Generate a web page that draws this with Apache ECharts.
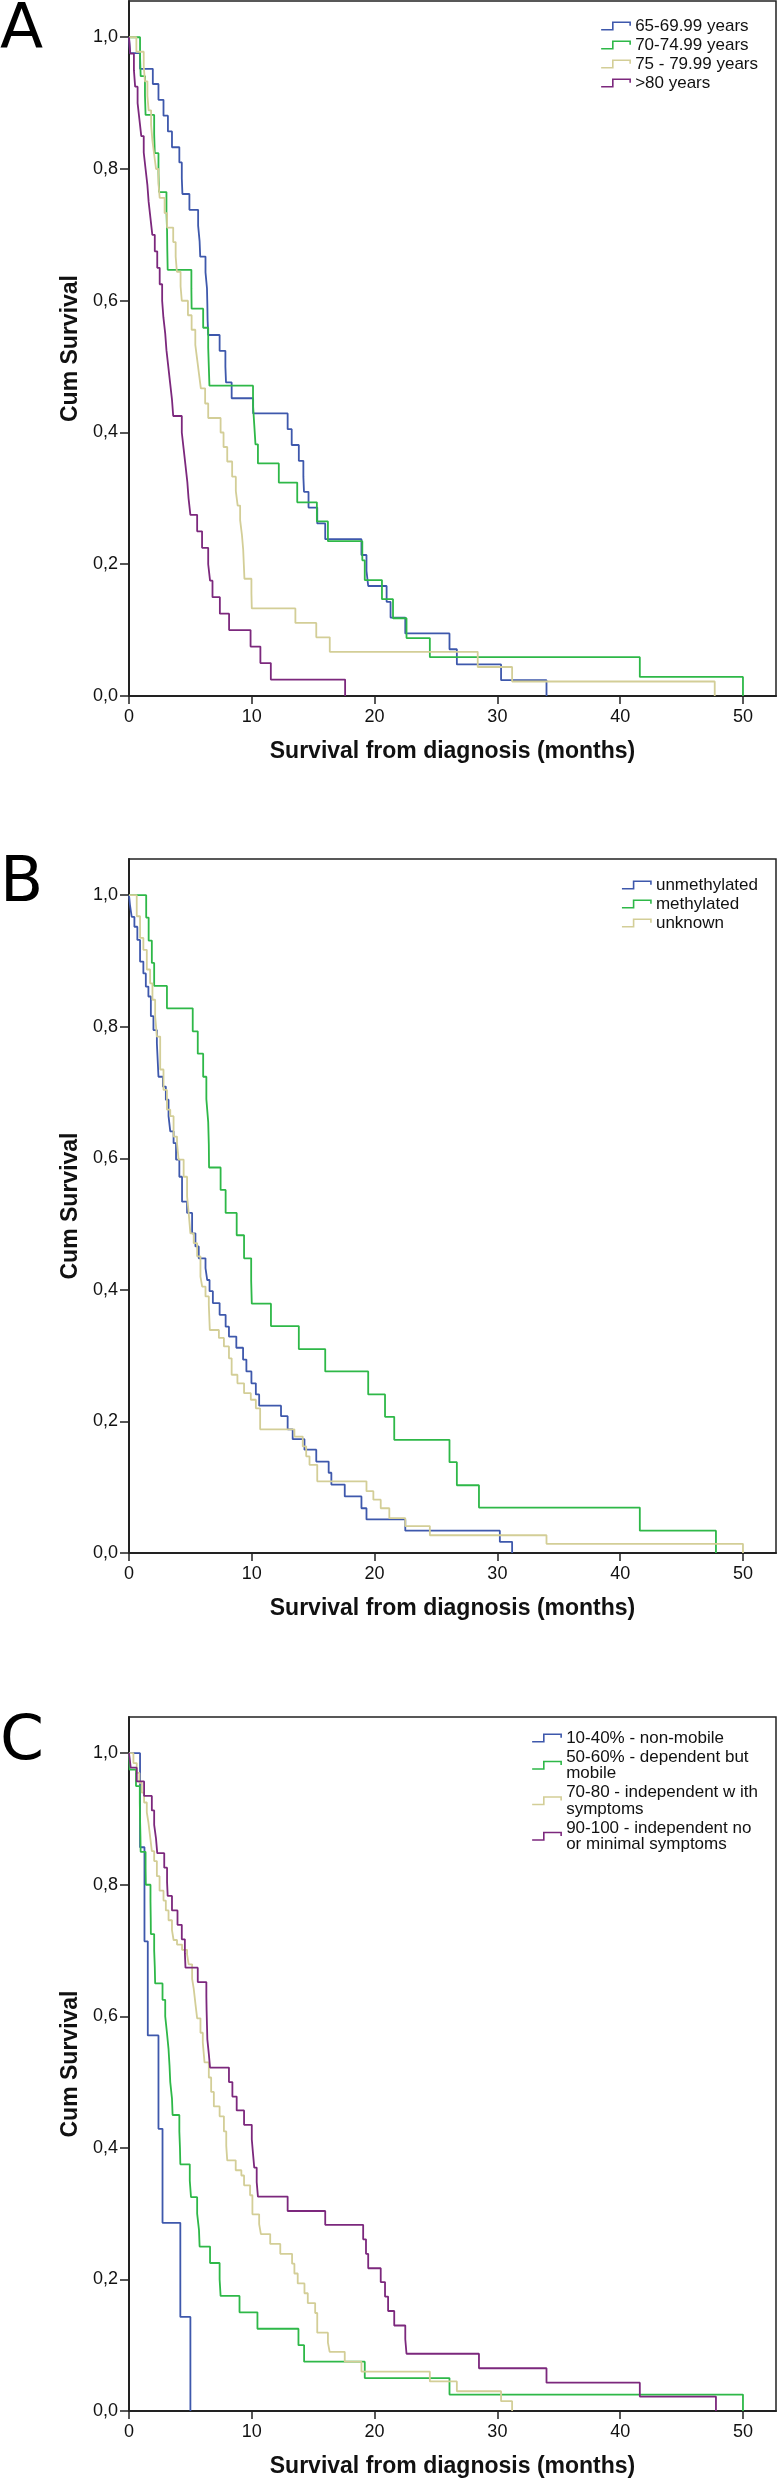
<!DOCTYPE html>
<html><head><meta charset="utf-8">
<script src="https://cdn.jsdelivr.net/npm/echarts@6/dist/echarts.min.js"></script>
<style>html,body{margin:0;padding:0;background:#fff}#c{width:778px;height:2481px}</style>
</head><body><div id="c"></div>
<script>
// ---------- data ----------
const xTicks = [0, 10, 20, 30, 40, 50];
const yTicks = [0, 0.2, 0.4, 0.6, 0.8, 1.0];
const yTickLabels = ['0,0', '0,2', '0,4', '0,6', '0,8', '1,0'];
const xTitle = 'Survival from diagnosis (months)';
const yTitle = 'Cum Survival';
const panelLetters = ['A', 'B', 'C'];

// Panel A: age groups
const groupsA = ['65-69.99 years', '70-74.99 years', '75 - 79.99 years', '>80 years'];
const A1_t = [0.08,0.9,1.94,2.4,2.81,3.17,3.5,4.1,4.3,4.35,4.92,5.63,5.75,5.8,6.23,6.35,6.38,6.4,6.45,7.38,7.85,7.9,8.36,10.11,12.92,13.25,13.83,14.2,14.25,14.62,15.33,15.98,18.93,19.34,19.48,20.98,21.3,22.5,26.1,26.7,30.3,34.0];
const A1_s = [0.976,0.952,0.929,0.905,0.881,0.857,0.833,0.810,0.786,0.762,0.738,0.714,0.690,0.667,0.643,0.619,0.595,0.571,0.548,0.524,0.500,0.476,0.452,0.429,0.405,0.381,0.357,0.333,0.310,0.286,0.262,0.238,0.214,0.190,0.167,0.143,0.119,0.095,0.071,0.048,0.024,0];
const A2_t = [0.9,0.95,1.3,1.35,2.05,2.1,2.4,2.45,3.05,3.1,3.12,3.15,5.08,5.1,6.04,6.45,6.5,6.55,10.1,10.2,10.3,10.5,12.2,13.7,15.3,16.2,19.0,19.2,20.6,21.5,22.6,24.5,41.6,50.0];
const A2_s = [0.971,0.941,0.912,0.882,0.853,0.824,0.794,0.765,0.735,0.706,0.676,0.647,0.618,0.588,0.559,0.529,0.500,0.471,0.441,0.412,0.382,0.353,0.324,0.294,0.265,0.235,0.206,0.176,0.147,0.118,0.088,0.059,0.029,0];
const A3_t = [0.6,1.2,1.3,1.5,1.6,1.8,1.9,2.05,2.2,2.4,2.5,2.9,3.1,3.6,3.8,3.9,4.2,4.3,4.8,5.1,5.4,5.55,5.7,5.85,6.2,6.45,7.46,7.7,8.0,8.4,8.7,8.85,9.05,9.2,9.3,9.35,9.4,9.97,10.0,13.55,15.25,16.35,28.4,31.2,47.7];
const A3_s = [0.978,0.956,0.933,0.911,0.889,0.867,0.844,0.822,0.800,0.778,0.756,0.733,0.711,0.689,0.667,0.644,0.622,0.600,0.578,0.556,0.533,0.511,0.489,0.467,0.444,0.422,0.400,0.378,0.356,0.333,0.311,0.289,0.267,0.244,0.222,0.200,0.178,0.156,0.133,0.111,0.089,0.067,0.044,0.022,0];
const A4_t = [0.1,0.4,0.5,0.7,0.85,1.0,1.2,1.35,1.5,1.6,1.75,1.9,2.1,2.3,2.5,2.7,2.8,2.95,3.05,3.2,3.35,3.5,3.6,4.3,4.45,4.6,4.75,4.85,5.0,5.55,5.95,6.45,6.6,6.8,7.4,8.15,9.9,10.7,11.55,17.6];
const A4_s = [0.975,0.95,0.925,0.9,0.875,0.85,0.825,0.8,0.775,0.75,0.725,0.7,0.675,0.65,0.625,0.6,0.575,0.55,0.525,0.5,0.475,0.45,0.425,0.4,0.375,0.35,0.325,0.3,0.275,0.25,0.225,0.2,0.175,0.15,0.125,0.1,0.075,0.05,0.025,0];

// Panel B: MGMT methylation
const groupsB = ['unmethylated', 'methylated', 'unknown'];
const B1_t = [0.08,0.22,0.44,0.68,0.9,1.17,1.37,1.58,1.78,1.99,2.27,2.4,2.76,3.0,3.22,3.36,3.63,3.83,4.1,4.32,4.73,5.14,5.41,5.68,6.23,6.37,6.56,6.83,7.38,7.87,8.14,8.74,9.29,9.56,9.97,10.33,10.6,12.38,12.92,13.33,14.29,15.25,16.26,16.48,17.57,18.93,19.34,22.5,30.2,31.2];
const B1_s = [0.985,0.967,0.952,0.932,0.899,0.881,0.861,0.846,0.816,0.795,0.775,0.724,0.709,0.689,0.664,0.641,0.623,0.598,0.572,0.534,0.517,0.486,0.466,0.448,0.433,0.415,0.398,0.380,0.362,0.344,0.329,0.312,0.294,0.276,0.258,0.241,0.224,0.208,0.188,0.173,0.157,0.139,0.122,0.104,0.086,0.068,0.051,0.034,0.017,0];
const B2_t = [1.4,1.6,1.86,2.05,3.09,5.19,5.6,6.04,6.3,6.45,6.5,6.52,7.46,7.87,8.77,9.37,9.95,10.0,11.56,13.83,15.98,19.48,20.85,21.6,26.1,26.7,28.5,41.6,47.8];
const B2_s = [0.966,0.931,0.897,0.862,0.828,0.793,0.759,0.724,0.690,0.655,0.621,0.586,0.552,0.517,0.483,0.448,0.414,0.379,0.345,0.310,0.276,0.241,0.207,0.172,0.138,0.103,0.069,0.034,0];
const B3_t = [0.63,0.9,1.17,1.45,1.72,1.91,2.13,2.27,2.54,2.81,3.09,3.36,3.63,3.91,4.04,4.45,4.73,4.86,5.0,5.27,5.55,5.82,5.96,6.23,6.5,6.58,7.32,7.73,8.14,8.36,8.83,9.37,9.92,10.33,10.68,13.47,14.15,14.43,14.7,15.33,19.34,19.9,20.5,21.2,22.5,24.5,34.0,50.0];
const B3_s = [0.968,0.935,0.917,0.887,0.866,0.841,0.816,0.785,0.735,0.704,0.674,0.664,0.633,0.623,0.598,0.572,0.542,0.517,0.486,0.471,0.451,0.420,0.405,0.390,0.377,0.339,0.327,0.314,0.296,0.271,0.258,0.243,0.233,0.220,0.188,0.177,0.162,0.147,0.134,0.109,0.094,0.081,0.068,0.053,0.041,0.027,0.014,0];

// Panel C: performance status
const groupsC = ['10-40% - non-mobile', '50-60% - dependent but mobile', '70-80 - independent w ith symptoms', '90-100 - independent no or minimal symptoms'];
const legendLabelsC = ['10-40% - non-mobile', '50-60% - dependent but\nmobile', '70-80 - independent w ith\nsymptoms', '90-100 - independent no\nor minimal symptoms'];
const C1_t = [0.9,1.26,1.53,2.4,2.73,4.18,5.0];
const C1_s = [0.857,0.714,0.571,0.429,0.286,0.143,0];
const C2_t = [0.05,0.57,0.88,0.9,0.93,0.95,1.35,1.37,1.75,1.77,1.78,2.05,2.1,2.13,2.73,2.95,3.09,3.22,3.3,3.36,3.5,3.55,4.1,4.15,4.18,4.95,5.05,5.55,5.7,5.75,6.6,7.38,7.46,9.0,10.46,13.8,14.26,19.2,26.1,50.0];
const C2_s = [0.975,0.95,0.925,0.9,0.875,0.85,0.825,0.8,0.775,0.75,0.725,0.7,0.675,0.65,0.625,0.6,0.575,0.55,0.525,0.5,0.475,0.45,0.425,0.4,0.375,0.35,0.325,0.3,0.275,0.25,0.225,0.2,0.175,0.15,0.125,0.1,0.075,0.05,0.025,0];
const C3_t = [0.36,0.63,0.85,1.04,1.23,1.45,1.58,1.72,1.86,2.05,2.27,2.49,2.81,3.0,3.22,3.5,3.63,3.91,4.32,4.73,4.86,5.14,5.27,5.41,5.55,5.82,6.01,6.15,6.5,6.69,6.91,7.38,7.73,7.92,8.0,8.69,9.15,9.37,9.86,10.05,10.6,10.74,11.5,12.32,13.28,13.47,13.74,14.29,14.56,15.16,15.33,16.2,16.34,17.57,18.93,24.5,26.7,30.3,31.2];
const C3_s = [0.985,0.970,0.955,0.940,0.925,0.910,0.895,0.873,0.851,0.836,0.813,0.791,0.776,0.761,0.746,0.731,0.716,0.709,0.701,0.694,0.679,0.657,0.642,0.619,0.597,0.575,0.560,0.530,0.507,0.485,0.463,0.448,0.425,0.403,0.381,0.366,0.358,0.343,0.328,0.299,0.284,0.269,0.254,0.239,0.224,0.209,0.194,0.179,0.164,0.149,0.119,0.104,0.090,0.075,0.060,0.045,0.030,0.015,0];
const C4_t = [0.14,0.63,1.23,1.86,2.05,2.2,2.3,2.87,3.1,3.15,3.5,3.95,4.3,4.55,4.6,5.6,6.3,6.32,6.35,6.38,6.5,6.6,8.14,8.42,8.77,9.37,10.0,10.1,10.2,10.4,10.5,12.92,15.98,19.07,19.3,19.48,20.5,20.85,21.1,21.6,22.5,22.6,28.5,34.0,41.6,47.8];
const C4_s = [0.978,0.957,0.935,0.913,0.891,0.870,0.848,0.826,0.804,0.783,0.761,0.739,0.717,0.696,0.674,0.652,0.630,0.609,0.587,0.565,0.543,0.522,0.500,0.478,0.457,0.435,0.413,0.391,0.370,0.348,0.326,0.304,0.283,0.261,0.239,0.217,0.196,0.174,0.152,0.130,0.109,0.087,0.065,0.043,0.022,0];

// ---------- styles / layout ----------
const FONT = '"Liberation Sans", Arial, sans-serif';
const COLORS = ['#3E58AC', '#2EB848', '#D3CE97', '#7C287D'];
const gridTops = [1, 859, 1717];
const gridHeights = [695, 694, 694];
const legendTops = [12.5, 871.5, 1724.5];
const letterY = [31.5, 884.5, 1742.5];
const X_MAX = 52.69, Y_MAX = 1.055;
const ICON = 'path://M0,22L35,22L35,0L87,0L87,10';

const panels = [
  { names: groupsA, labels: groupsA, curves: [[A1_t, A1_s], [A2_t, A2_s], [A3_t, A3_s], [A4_t, A4_s]] },
  { names: groupsB, labels: groupsB, curves: [[B1_t, B1_s], [B2_t, B2_s], [B3_t, B3_s]] },
  { names: groupsC, labels: legendLabelsC, curves: [[C1_t, C1_s], [C2_t, C2_s], [C3_t, C3_s], [C4_t, C4_s]] }
];

function kmData(t, s) {
  const d = [[0, 1]];
  for (let i = 0; i < t.length; i++) d.push([t[i], s[i]]);
  return d;
}
function yFmt(v) {
  const i = yTicks.findIndex(t => Math.abs(t - v) < 1e-6);
  return i >= 0 ? yTickLabels[i] : '';
}

const grid = [], xAxis = [], yAxis = [], legend = [], series = [], graphic = [];
panels.forEach((p, i) => {
  grid.push({ left: 129, top: gridTops[i], width: 647, height: gridHeights[i], show: true,
    borderColor: '#222', borderWidth: 1.5, backgroundColor: 'transparent' });
  xAxis.push({ gridIndex: i, type: 'value', min: 0, max: X_MAX,
    axisLine: { show: true, onZero: false, lineStyle: { color: '#222', width: 2 } },
    axisTick: { show: true, length: 8, customValues: xTicks, lineStyle: { color: '#222', width: 1.5 } },
    axisLabel: { customValues: xTicks, color: '#111', fontFamily: FONT, fontSize: 18, margin: 12 },
    splitLine: { show: false },
    name: xTitle, nameLocation: 'middle', nameGap: 44,
    nameTextStyle: { fontFamily: FONT, fontSize: 23, fontWeight: 'bold', color: '#111' } });
  yAxis.push({ gridIndex: i, type: 'value', min: 0, max: Y_MAX,
    axisLine: { show: true, onZero: false, lineStyle: { color: '#222', width: 2 } },
    axisTick: { show: true, length: 9, customValues: yTicks, lineStyle: { color: '#222', width: 1.5 } },
    axisLabel: { customValues: yTicks, formatter: yFmt, color: '#111', fontFamily: FONT, fontSize: 18, margin: 11 },
    splitLine: { show: false },
    name: yTitle, nameLocation: 'middle', nameGap: 47, nameRotate: 90,
    nameTextStyle: { fontFamily: FONT, fontSize: 23, fontWeight: 'bold', color: '#111' } });
  legend.push({ orient: 'vertical', right: 15, top: legendTops[i], padding: 5,
    itemWidth: 29, itemHeight: 7.5, itemGap: 2, align: 'left', selectedMode: false,
    symbolKeepAspect: false,
    textStyle: { fontFamily: FONT, fontSize: 17, color: '#111', lineHeight: 16.5 },
    formatter: (name) => p.labels[p.names.indexOf(name)],
    data: p.names.map((n, j) => ({ name: n, icon: ICON,
      itemStyle: { color: 'rgba(0,0,0,0)', borderColor: COLORS[j], borderWidth: 1.6 } })) });
  p.curves.forEach((c, j) => {
    series.push({ type: 'line', name: p.names[j], xAxisIndex: i, yAxisIndex: i,
      data: kmData(c[0], c[1]), step: 'end', symbol: 'none', showSymbol: false,
      lineStyle: { color: COLORS[j], width: 1.8 }, itemStyle: { color: COLORS[j] },
      silent: true, animation: false });
  });
  graphic.push({ type: 'text', x: 0, y: letterY[i],
    style: { text: panelLetters[i], font: '63px "DejaVu Sans", sans-serif', fill: '#000',
      align: 'left', verticalAlign: 'middle' } });
});

const chart = echarts.init(document.getElementById('c'), null, { renderer: 'canvas', width: 778, height: 2481 });
chart.setOption({ animation: false, backgroundColor: '#fff', grid, xAxis, yAxis, legend, series, graphic });
</script>
</body></html>
